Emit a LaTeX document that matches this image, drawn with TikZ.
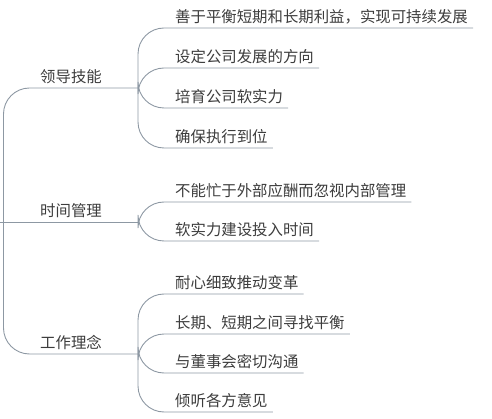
\documentclass[tikz,border=0pt]{standalone}
\usepackage{fontspec}
\setmainfont{Noto Sans CJK SC}
\usepackage{tikz}
\usetikzlibrary{positioning}
\definecolor{linegray}{HTML}{8D98A3}
\definecolor{inkgray}{HTML}{3C3C3C}

\begin{document}
\begin{tikzpicture}[x=1pt,y=-1pt,
  link/.style={draw=linegray,line width=0.9pt,rounded corners=26pt},
  topic/.style={anchor=south west,inner xsep=5pt,inner ysep=5.5pt,text depth=0pt,
    text=inkgray,font=\fontsize{15.4}{17}\selectfont}]
  \useasboundingbox (0,0) rectangle (492,419);

  % root and main branches
  \coordinate (root) at (0,222);
  \coordinate (spine) at (3.5,222);
  \node[topic] (lead) at (35,88) {领导技能};
  \node[topic] (time) at (35,222) {时间管理};
  \node[topic] (idea) at (35,354) {工作理念};
  \coordinate (lead-j) at (138,88);
  \coordinate (time-j) at (138,222);
  \coordinate (idea-j) at (138,354);

  % leaves
  \node[topic] (lead1) at (170,28) {善于平衡短期和长期利益，实现可持续发展};
  \node[topic] (lead2) at (170,68) {设定公司发展的方向};
  \node[topic] (lead3) at (170,108) {培育公司软实力};
  \node[topic] (lead4) at (170,148) {确保执行到位};
  \node[topic] (time1) at (170,202) {不能忙于外部应酬而忽视内部管理};
  \node[topic] (time2) at (170,241) {软实力建设投入时间};
  \node[topic] (idea1) at (170,294) {耐心细致推动变革};
  \node[topic] (idea2) at (170,334) {长期、短期之间寻找平衡};
  \node[topic] (idea3) at (170,373) {与董事会密切沟通};
  \node[topic] (idea4) at (170,412) {倾听各方意见};

  % branches from the root
  \draw[link] (spine) |- (lead-j);
  \draw[link] (root) -- (time-j);
  \draw[link] (spine) |- (idea-j);

  % leaves of each branch
  \foreach \l in {lead1,lead2,lead3,lead4}
    \draw[link] (lead-j) |- (\l.south east);
  \foreach \l in {time1,time2}
    \draw[link] (time-j) |- (\l.south east);
  \foreach \l in {idea1,idea2,idea3,idea4}
    \draw[link] (idea-j) |- (\l.south east);
\end{tikzpicture}
\end{document}
